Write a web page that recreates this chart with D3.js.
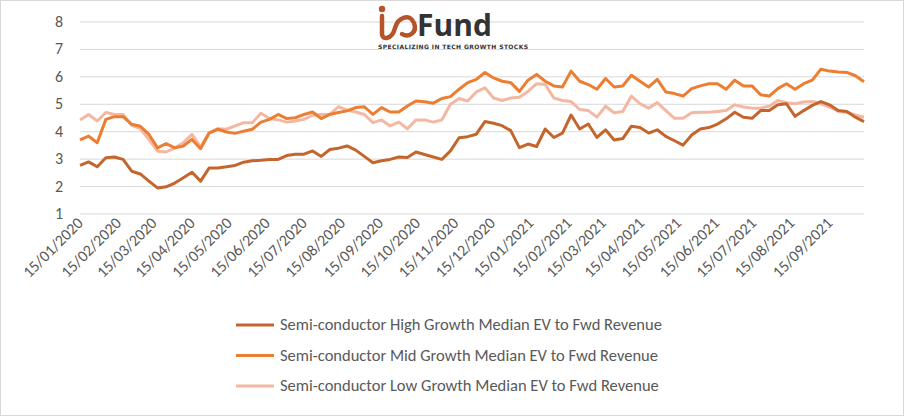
<!DOCTYPE html>
<html><head><meta charset="utf-8">
<script src="https://cdn.jsdelivr.net/npm/d3@7"></script>
<style>body{margin:0;background:#fff}svg{display:block;font-family:Carlito,Calibri,"Liberation Sans",sans-serif}</style>
</head><body><svg id="c" width="904" height="416"></svg>
<script>
var high = [2.77,2.9,2.72,3.05,3.08,2.99,2.56,2.46,2.2,1.95,1.99,2.13,2.32,2.52,2.2,2.68,2.68,2.72,2.77,2.89,2.94,2.96,2.99,2.99,3.13,3.18,3.18,3.3,3.1,3.35,3.4,3.48,3.33,3.1,2.87,2.94,2.99,3.08,3.06,3.26,3.17,3.08,2.99,3.3,3.78,3.82,
  3.91,4.37,4.31,4.22,4.04,3.42,3.55,3.46,4.1,3.79,3.95,4.61,4.1,4.28,3.79,4.07,3.7,3.75,4.2,4.15,3.95,4.07,3.83,3.67,3.51,3.88,4.1,4.15,4.28,4.47,4.71,4.53,4.49,4.77,4.77,4.98,5.02,4.56,4.77,4.96,5.1,4.98,4.77,4.74,4.53,4.37]
var mid = [3.7,3.84,3.6,4.45,4.55,4.55,4.27,4.2,3.9,3.41,3.57,3.41,3.48,3.72,3.38,3.96,4.09,3.99,3.94,4.02,4.09,4.35,4.45,4.63,4.48,4.51,4.63,4.72,4.48,4.63,4.7,4.76,4.88,4.91,4.63,4.88,4.72,4.72,4.94,5.12,5.09,5.04,5.21,5.28,5.55,5.79,
  5.91,6.16,5.96,5.84,5.79,5.47,5.88,6.09,5.84,5.67,5.63,6.21,5.84,5.72,5.55,5.94,5.63,5.67,6.06,5.84,5.63,5.91,5.45,5.39,5.3,5.57,5.67,5.75,5.75,5.55,5.88,5.67,5.67,5.35,5.3,5.57,5.75,5.55,5.75,5.88,6.28,6.21,6.18,6.16,6.04,5.82]
var low = [4.43,4.63,4.39,4.7,4.63,4.63,4.23,4.11,3.72,3.29,3.26,3.41,3.6,3.9,3.45,3.96,4.11,4.09,4.21,4.33,4.33,4.67,4.48,4.43,4.35,4.39,4.45,4.6,4.63,4.63,4.91,4.79,4.72,4.63,4.33,4.43,4.21,4.35,4.11,4.43,4.43,4.35,4.43,5.0,5.21,5.12,
  5.45,5.6,5.23,5.14,5.23,5.26,5.47,5.75,5.72,5.23,5.14,5.1,4.81,4.77,4.53,4.93,4.69,4.74,5.3,5.02,4.86,5.06,4.77,4.49,4.49,4.69,4.71,4.71,4.74,4.77,4.98,4.9,4.86,4.86,4.93,5.14,5.06,5.02,5.08,5.1,5.02,4.9,4.74,4.71,4.61,4.53]
var seriesNames = ['Semi-conductor High Growth Median EV to Fwd Revenue','Semi-conductor Mid Growth Median EV to Fwd Revenue','Semi-conductor Low Growth Median EV to Fwd Revenue']
var colors = ['#c4662c','#ed7d31','#f4b8a2']
var yTicks = [1,2,3,4,5,6,7,8]

var start = new Date(2020, 0, 15)
var dates = high.map(function (d, i) { return d3.timeDay.offset(start, i * 7) })
var tickDates = d3.range(0, 21).map(function (m) { return new Date(2020, m, 15) })

var svg = d3.select('#c')
svg.append('rect').attr('x', 0.5).attr('y', 0.5).attr('width', 903).attr('height', 415).attr('fill', '#fff').attr('stroke', '#d9d9d9')

var x = d3.scaleTime().domain([start, dates[dates.length - 1]]).range([80, 864])
var y = d3.scaleLinear().domain([1, 8]).range([214, 22])

// grid
svg.append('g').selectAll('line').data(yTicks).enter().append('line')
  .attr('x1', 80).attr('x2', 864).attr('y1', d => y(d)).attr('y2', d => y(d))
  .attr('stroke', '#d9d9d9').attr('stroke-width', 1)

svg.append('g').selectAll('text').data(yTicks).enter().append('text')
  .attr('x', 63).attr('y', d => y(d) + 5).attr('text-anchor', 'end')
  .attr('font-size', 16).attr('fill', '#595959').text(d => d)

svg.append('g').selectAll('text').data(tickDates).enter().append('text')
  .attr('transform', d => 'translate(' + (x(d) + 4) + ',' + 224 + ') rotate(-45)')
  .attr('text-anchor', 'end').attr('font-size', 16).attr('fill', '#595959')
  .text(d3.timeFormat('%d/%m/%Y'))

// logo
var logo = svg.append('g')
logo.append('circle').attr('cx', 382).attr('cy', 9).attr('r', 3.2).attr('fill', '#b5532a')
logo.append('path').attr('d', 'M382,16 L382,34 M382,34 C382,40 392,40 395,28 C398,17 410,13 414,23 C418,33 408,38 402,34')
  .attr('fill', 'none').attr('stroke', '#b5532a').attr('stroke-width', 4.5).attr('stroke-linecap', 'round')
logo.append('text').attr('x', 417).attr('y', 36).attr('font-size', 30).attr('font-weight', 'bold')
  .attr('font-family', '"Open Sans",sans-serif').attr('fill', '#333').text('Fund')
logo.append('text').attr('x', 378).attr('y', 49).attr('font-size', 6).attr('font-weight', 'bold')
  .attr('font-family', '"DejaVu Sans",sans-serif').attr('fill', '#333').attr('textLength', 150).text('SPECIALIZING IN TECH GROWTH STOCKS')

// lines
var line = d3.line().x((d, i) => x(dates[i])).y(d => y(d))
var all = [high, mid, low]
svg.append('g').selectAll('path').data([2, 1, 0]).enter().append('path')
  .attr('d', k => line(all[k])).attr('fill', 'none')
  .attr('stroke', k => colors[k]).attr('stroke-width', 3).attr('stroke-linejoin', 'round')

// legend
var lg = svg.append('g').selectAll('g').data(seriesNames).enter().append('g')
  .attr('transform', (d, i) => 'translate(236,' + (325 + i * 30.5) + ')')
lg.append('line').attr('x1', 0).attr('x2', 38).attr('stroke', (d, i) => colors[i]).attr('stroke-width', 3)
lg.append('text').attr('x', 44).attr('y', 5).attr('font-size', 16.5).attr('fill', '#595959').text(d => d)
</script></body></html>
